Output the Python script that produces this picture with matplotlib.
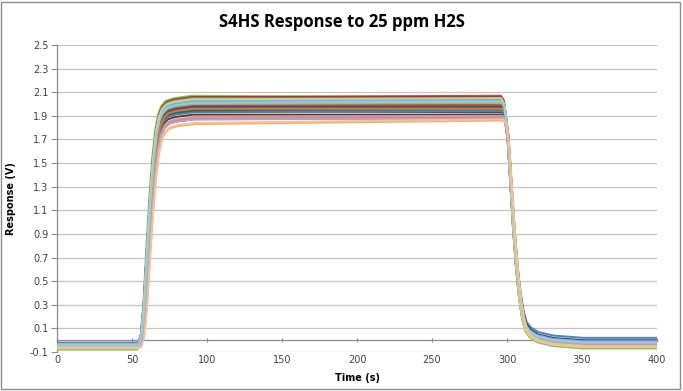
import matplotlib
matplotlib.use("Agg")
import matplotlib.pyplot as plt
from matplotlib.patches import Rectangle

# ---- data ----
# shared normalised step-response profile (fraction of the step reached)
rise_t = [0, 54, 56, 58, 60, 62, 64, 66, 68, 70, 73, 78, 90]
rise_frac = [0, 0, 0.04, 0.18, 0.40, 0.60, 0.76, 0.87, 0.93, 0.96, 0.98, 0.99, 1.0]
fall_t = [296, 298, 300, 302, 304, 306, 308, 310, 312, 315, 320, 330, 350, 400]
fall_frac = [1, 0.98, 0.88, 0.68, 0.48, 0.32, 0.20, 0.12, 0.07, 0.045, 0.025, 0.01, 0.0, 0.0]

# per-sensor levels (V)
series_colors = [
    "#4F81BD", "#C0504D", "#9BBB59", "#8064A2", "#4BACC6", "#F79646",
    "#2C4D75", "#772C2A", "#5F7530", "#4D3B62", "#276A7C", "#B65708",
    "#729ACA", "#CD7371", "#AFC97A", "#9983B5", "#6FBDD1", "#F9AB6B",
    "#3A6595", "#9C3F3C", "#7E9A45", "#654F82", "#3A8DA3", "#D97B2C",
    "#95B3D7", "#D99694", "#C3D69B", "#B3A2C7", "#93CDDD", "#FAC090",
]
baseline = [-0.02, -0.05, -0.08, -0.05, -0.04, -0.05,
            -0.03, -0.05, -0.07, -0.05, -0.04, -0.05,
            -0.03, -0.05, -0.07, -0.05, -0.04, -0.05,
            -0.03, -0.05, -0.06, -0.05, -0.04, -0.05,
            -0.03, -0.05, -0.07, -0.05, -0.04, -0.06]
plateau_start = [1.97, 2.06, 2.07, 1.99, 1.96, 2.00,
                 1.94, 1.91, 2.03, 1.98, 1.95, 1.99,
                 2.02, 1.87, 2.05, 1.88, 2.00, 1.83,
                 2.04, 2.06, 2.05, 1.97, 1.93, 1.96,
                 2.03, 1.89, 2.04, 1.87, 2.01, 1.84]
plateau_end = [1.96, 2.07, 2.05, 1.99, 1.97, 2.01,
               1.93, 1.91, 2.03, 1.98, 1.95, 1.99,
               2.02, 1.88, 2.04, 1.89, 2.01, 1.86,
               2.05, 2.06, 2.04, 1.97, 1.94, 1.96,
               2.03, 1.90, 2.05, 1.88, 2.02, 1.87]
final_level = [0.02, -0.03, -0.07, -0.03, -0.02, -0.04,
               0.00, -0.03, -0.06, -0.03, -0.02, -0.04,
               -0.01, -0.04, -0.06, -0.03, -0.02, -0.05,
               -0.01, -0.03, -0.05, -0.03, -0.02, -0.04,
               -0.01, -0.04, -0.06, -0.03, -0.02, -0.05]
rise_lag = [0.5, 0.0, -0.5, 0.5, 0.5, 0.5,
            1.0, 1.0, 0.0, 0.5, 1.0, 0.5,
            0.0, 1.5, 0.0, 1.5, 0.5, 2.0,
            0.0, 0.0, 0.0, 0.5, 1.0, 1.0,
            0.0, 1.5, 0.0, 1.5, 0.5, 2.0]
fall_lag = [1.0, 0.0, 0.0, 0.5, 0.5, 0.5,
            1.0, 0.5, 0.0, 0.5, 1.0, 0.5,
            0.0, 1.0, 0.0, 1.0, 0.5, 1.5,
            0.0, 0.0, 0.0, 0.5, 1.0, 1.0,
            0.0, 1.0, 0.0, 1.0, 0.5, 1.5]

x_ticks = [0, 50, 100, 150, 200, 250, 300, 350, 400]
y_ticks = [-0.1, 0.1, 0.3, 0.5, 0.7, 0.9, 1.1, 1.3, 1.5, 1.7, 1.9, 2.1, 2.3, 2.5]

# ---- figure ----
fig = plt.figure(figsize=(6.83, 3.91), dpi=100)
ax = fig.add_axes([0.0835, 0.0997, 0.8785, 0.7853])

for i, c in enumerate(series_colors):
    b, ps, pe, f = baseline[i], plateau_start[i], plateau_end[i], final_level[i]
    tt = [t + rise_lag[i] if 0 < t else t for t in rise_t]
    vv = [b + fr * (ps - b) for fr in rise_frac]
    tt += [t + fall_lag[i] if t < 400 else t for t in fall_t]
    vv += [f + fr * (pe - f) for fr in fall_frac]
    ax.plot(tt, vv, color=c, lw=1.4, solid_joinstyle="round", zorder=3)

ax.set_xlim(0, 400)
ax.set_ylim(-0.1, 2.5)
ax.set_yticks(y_ticks)
ax.set_yticklabels([f"{v:.1f}" for v in y_ticks])
ax.set_xticks(x_ticks)
ax.set_xticklabels([str(v) for v in x_ticks])
ax.yaxis.grid(True, color="#c4c4c4", lw=0.9, zorder=0)
ax.set_axisbelow(True)

for s in ["top", "right", "bottom"]:
    ax.spines[s].set_visible(False)
ax.spines["left"].set_color("#8c8c8c")
ax.spines["left"].set_linewidth(0.9)
ax.tick_params(axis="y", length=4, width=0.8, color="#8c8c8c", labelsize=7,
               labelcolor="#404040", pad=2)
ax.tick_params(axis="x", length=0, labelsize=7, labelcolor="#404040", pad=2)

# horizontal axis line crossing at y = 0
sec = ax.secondary_xaxis(0.1 / 2.6)
sec.set_xticks(x_ticks)
sec.set_xticklabels([])
sec.spines["bottom"].set_color("#8c8c8c")
sec.spines["bottom"].set_linewidth(0.9)
sec.tick_params(axis="x", length=3, width=0.8, color="#8c8c8c", direction="inout")

ax.set_xlabel("Time (s)", fontsize=7, fontweight="bold", labelpad=6)
ax.set_ylabel("Response (V)", fontsize=7, fontweight="bold", labelpad=10)
fig.text(0.5, 0.945, "S4HS Response to 25 ppm H2S", ha="center", va="center",
         fontsize=12, fontweight="bold", family=["Open Sans", "DejaVu Sans"])

fig.patches.append(Rectangle((0.002, 0.006), 0.994, 0.99, transform=fig.transFigure,
                             fill=False, edgecolor="#8c8c8c", lw=1.0))

fig.savefig("out.png", dpi=100)
